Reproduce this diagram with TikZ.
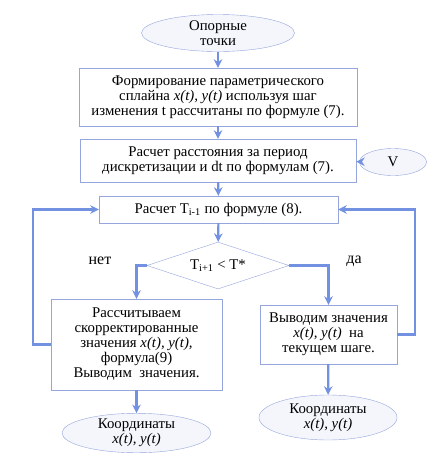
\documentclass[tikz,border=0pt]{standalone}
\usepackage{fontspec}
\setmainfont{Liberation Serif}
\usepackage{tikz}
\usetikzlibrary{arrows.meta,positioning,shapes.geometric}
\definecolor{boxblue}{RGB}{150,165,220}
\definecolor{arrblue}{RGB}{115,145,225}
\definecolor{termfill}{RGB}{244,246,252}

\begin{document}
\begin{tikzpicture}[x=1pt, y=-1pt,
    box/.style={rectangle, draw=boxblue, fill=white, align=center, inner sep=1pt,
                font=\fontsize{14.8}{15}\selectfont},
    term/.style={ellipse, draw=boxblue, fill=termfill, align=center, inner sep=0pt,
                font=\fontsize{14.8}{15}\selectfont},
    cond/.style={diamond, draw=boxblue, fill=white, inner sep=0pt, aspect=3,
                font=\fontsize{14.8}{15}\selectfont},
    lbl/.style={font=\fontsize{16}{18}\selectfont},
    arr/.style={-{Stealth[length=3mm, width=3mm]}, arrblue, line width=2.2pt}]
\useasboundingbox (0,0) rectangle (437,459);
\node[term, minimum width=153pt, minimum height=37pt] (start) at (218,33) {Опорные\\точки};
\node[box, minimum width=278pt, minimum height=58pt] (spline) at (218,97)
    {Формирование параметрического\\сплайна \textit{x(t), y(t)} используя шаг\\изменения t рассчитаны по формуле (7).};
\node[box, minimum width=276pt, minimum height=43pt] (dist) at (218,160.5)
    {Расчет расстояния за период\\дискретизации и dt по формулам (7).};
\node[term, minimum width=67pt, minimum height=27pt] (vel) at (393,162) {V};
\node[box, minimum width=239pt, minimum height=27pt] (period) at (218.5,209.5)
    {Расчет T\textsubscript{i-1} по формуле (8).};
\node[cond, minimum width=142pt, minimum height=47pt] (check) at (218,265.5)
    {T\textsubscript{i+1} < T*};
\node[box, minimum width=171pt, minimum height=91pt] (fix) at (136.5,344.5)
    {Рассчитываем\\скорректированные\\значения \textit{x(t), y(t),}\\формула(9)\\Выводим\ \ значения.};
\node[box, minimum width=137pt, minimum height=59pt] (out) at (328.5,334.5)
    {Выводим значения\\\textit{x(t), y(t)}\ \ на\\текущем шаге.};
\node[term, minimum width=149pt, minimum height=38pt] (resl) at (136.5,433)
    {Координаты\\\textit{x(t), y(t)}};
\node[term, minimum width=138pt, minimum height=45pt] (resr) at (328,417.5)
    {Координаты\\\textit{x(t), y(t)}};
\node[lbl] (no) at (100,261) {нет};
\node[lbl] (yes) at (354,261) {да};
% main flow
\draw[arr] (start) -- (spline);
\draw[arr] (spline) -- (dist);
\draw[arr] (vel) -- (dist);
\draw[arr] (dist) -- (period);
\draw[arr] (period) -- (check);
\draw[arr] (check.west) -| (fix.north);
\draw[arr] (check.east) -| (out.north);
\draw[arr] (fix) -- (resl);
\draw[arr] (out) -- (resr);
% loops back
\draw[arr] (fix.west) -- ++(-18,0) |- (period.west);
\draw[arr] (out.east) -- ++(18,0) |- (period.east);
\end{tikzpicture}
\end{document}
